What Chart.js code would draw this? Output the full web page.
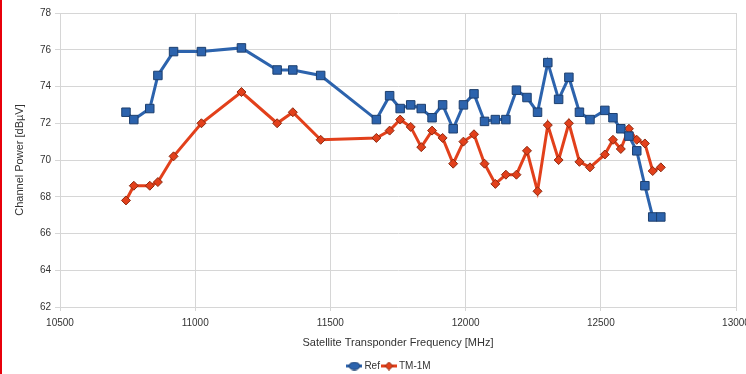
<!DOCTYPE html>
<html>
<head>
<meta charset="utf-8">
<script src="https://cdn.jsdelivr.net/npm/chart.js@4"></script>
<style>
  html, body { margin: 0; padding: 0; background: #fff; }
  #wrap { position: relative; width: 746px; height: 374px; }
  #edge { position: absolute; left: 0; top: 0; width: 2px; height: 374px; background: #e8000b; }
</style>
</head>
<body>
<div id="wrap">
  <canvas id="myChart" width="746" height="374"></canvas>
  <div id="edge"></div>
</div>
<script>
// transponder frequencies (MHz)
var freqs = [10744, 10773, 10832, 10862, 10920, 11023, 11171, 11303, 11361, 11464,
             11670, 11719, 11758, 11797, 11836, 11876, 11915, 11954, 11992, 12031,
             12070, 12110, 12149, 12188, 12227, 12266, 12304, 12344, 12382, 12421,
             12460, 12515, 12545, 12574, 12604, 12633, 12663, 12692, 12722];

// channel power, dBµV
var refValues = [72.6, 72.2, 72.8, 74.6, 75.9, 75.9, 76.1, 74.9, 74.9, 74.6,
                 72.2, 73.5, 72.8, 73.0, 72.8, 72.3, 73.0, 71.7, 73.0, 73.6,
                 72.1, 72.2, 72.2, 73.8, 73.4, 72.6, 75.3, 73.3, 74.5, 72.6,
                 72.2, 72.7, 72.3, 71.7, 71.3, 70.5, 68.6, 66.9, 66.9];

var tmValues = [67.8, 68.6, 68.6, 68.8, 70.2, 72.0, 73.7, 72.0, 72.6, 71.1,
                71.2, 71.6, 72.2, 71.8, 70.7, 71.6, 71.2, 69.8, 71.0, 71.4,
                69.8, 68.7, 69.2, 69.2, 70.5, 68.3, 71.9, 70.0, 72.0, 69.9,
                69.6, 70.3, 71.1, 70.6, 71.7, 71.1, 70.9, 69.4, 69.6];

var seriesNames = ['Ref', 'TM-1M'];

function pts(vals) {
    return freqs.map(function (f, i) { return { x: f, y: vals[i] }; });
}

// little legend icons: line with a marker on it
function legendIcon(color, border, diamond) {
    var c = document.createElement('canvas');
    c.width = 16; c.height = 9;
    var g = c.getContext('2d');
    g.strokeStyle = color; g.lineWidth = 3;
    g.beginPath(); g.moveTo(0, 4.5); g.lineTo(16, 4.5); g.stroke();
    g.fillStyle = color; g.strokeStyle = border; g.lineWidth = 1;
    g.beginPath();
    if (diamond) {
        g.moveTo(8, 0.5); g.lineTo(12, 4.5); g.lineTo(8, 8.5); g.lineTo(4, 4.5); g.closePath();
    } else {
        g.ellipse(8, 4.5, 5.5, 3.8, 0, 0, Math.PI * 2);
    }
    g.fill(); g.stroke();
    return c;
}

var FONT = 'Liberation Sans, Arial, sans-serif';
var GRID = '#d6d6d6';
var BLUE = '#2c63ad', RED = '#e2401b';

// legend sits a bit right of canvas centre in the original
var legendShift = {
    id: 'legendShift',
    afterLayout: function (chart) {
        chart.legend.left += 22;
        chart.legend.right += 22;
    }
};

var ctx = document.getElementById('myChart');
var myChart = new Chart(ctx, {
    type: 'line',
    data: {
        datasets: [{
            label: seriesNames[0],
            data: pts(refValues),
            borderColor: BLUE,
            backgroundColor: BLUE,
            borderWidth: 3,
            pointStyle: 'rect',
            pointRadius: 6,
            pointBorderColor: '#1d3f6e',
            pointBorderWidth: 1,
            tension: 0
        }, {
            label: seriesNames[1],
            data: pts(tmValues),
            borderColor: RED,
            backgroundColor: RED,
            borderWidth: 3,
            pointStyle: 'rectRot',
            pointRadius: 4.5,
            pointBorderColor: '#8c2a10',
            pointBorderWidth: 1,
            tension: 0
        }]
    },
    plugins: [legendShift],
    options: {
        responsive: false,
        animation: false,
        // negative bottom pad pushes the legend row further down
        layout: { padding: { top: 13, right: 10, left: 0, bottom: -7 } },
        plugins: {
            tooltip: { enabled: false },
            legend: {
                position: 'bottom',
                labels: {
                    usePointStyle: true,
                    boxHeight: 9,
                    padding: 4,
                    color: '#333',
                    font: { family: FONT, size: 10 },
                    generateLabels: function (chart) {
                        var icons = [legendIcon(BLUE, '#1d3f6e', false), legendIcon(RED, '#8c2a10', true)];
                        return chart.data.datasets.map(function (ds, i) {
                            return {
                                text: ds.label, datasetIndex: i, pointStyle: icons[i],
                                fillStyle: ds.backgroundColor, strokeStyle: ds.borderColor,
                                lineWidth: 0, fontColor: '#333', hidden: false
                            };
                        });
                    }
                }
            }
        },
        scales: {
            x: {
                type: 'linear',
                min: 10500,
                max: 13000,
                ticks: {
                    stepSize: 500, color: '#333', font: { family: FONT, size: 10 }, padding: 6,
                    callback: function (v) { return String(v); }
                },
                grid: { color: GRID, tickLength: 4 },
                border: { color: GRID },
                title: {
                    display: true,
                    text: 'Satellite Transponder Frequency [MHz]',
                    color: '#333',
                    font: { family: FONT, size: 11 },
                    padding: { top: 3, bottom: 7 }
                },
                afterFit: function (s) { s.height = 50; s.paddingLeft = 0; s.paddingRight = 0; }
            },
            y: {
                min: 62,
                max: 78,
                ticks: {
                    stepSize: 2, color: '#333', font: { family: FONT, size: 10 }, padding: 4,
                    callback: function (v) { return String(v); }
                },
                grid: { color: GRID, tickLength: 5 },
                border: { color: GRID },
                title: {
                    display: true,
                    text: 'Channel Power [dBµV]',
                    color: '#333',
                    font: { family: FONT, size: 11 },
                    padding: { top: 13, bottom: 0 }
                },
                afterFit: function (s) { s.width = 60; }
            }
        }
    }
});
</script>
</body>
</html>
